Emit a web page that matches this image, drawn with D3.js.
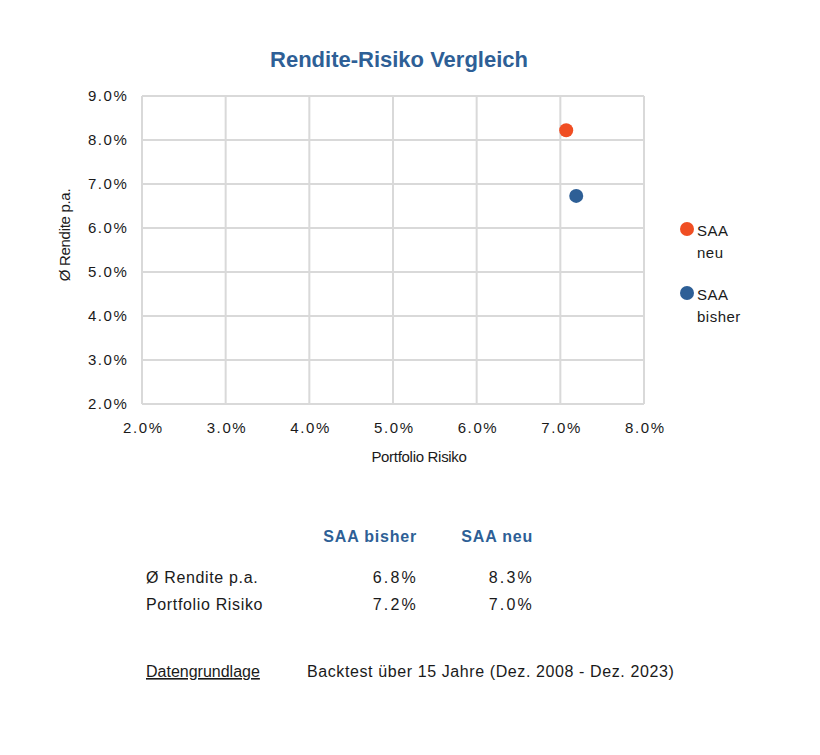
<!DOCTYPE html>
<html>
<head>
<meta charset="utf-8">
<script src="https://cdn.jsdelivr.net/npm/d3@7"></script>
<style>
  body { margin: 0; background: #fff; }
  svg text { font-family: "Liberation Sans", Arial, sans-serif; }
</style>
</head>
<body>
<svg id="chart" width="820" height="755"></svg>
<script>
// data
var series = ["SAA neu", "SAA bisher"];
var risiko = [7.07, 7.19];      // x, plotted position
var rendite = [8.22, 6.73];     // y, plotted position
var colors = ["#f04e23", "#2e5f96"];
var legendLines = [["SAA", "neu"], ["SAA", "bisher"]];

var tableCols = ["SAA bisher", "SAA neu"];
var tableRows = ["Ø Rendite p.a.", "Portfolio Risiko"];
var tableVals = [["6.8%", "8.3%"], ["7.2%", "7.0%"]];

var xTicks = [2, 3, 4, 5, 6, 7, 8];
var yTicks = [2, 3, 4, 5, 6, 7, 8, 9];

var svg = d3.select("#chart");
var margin = {top: 96, left: 142},
    width = 502, height = 308;

var x = d3.scaleLinear().domain([2, 8]).range([0, width]);
var y = d3.scaleLinear().domain([2, 9]).range([height, 0]);
var fmt = function(d) { return d.toFixed(1) + "%"; };
var ink = "#1a1a1a";

var g = svg.append("g").attr("transform", "translate(" + margin.left + "," + margin.top + ")");

// title
svg.append("text")
  .attr("x", 399).attr("y", 67)
  .attr("text-anchor", "middle")
  .style("font-size", "22px").style("font-weight", "bold")
  .attr("fill", "#2e5f96")
  .text("Rendite-Risiko Vergleich");

// grid
g.selectAll(".vgrid").data(xTicks).enter().append("line")
  .attr("x1", function(d) { return x(d); }).attr("x2", function(d) { return x(d); })
  .attr("y1", 0).attr("y2", height)
  .attr("stroke", "#d9d9d9").attr("stroke-width", 2);
g.selectAll(".hgrid").data(yTicks).enter().append("line")
  .attr("y1", function(d) { return y(d); }).attr("y2", function(d) { return y(d); })
  .attr("x1", 0).attr("x2", width)
  .attr("stroke", "#d9d9d9").attr("stroke-width", 2);

// axes
var xAxis = g.append("g")
  .attr("transform", "translate(0," + height + ")")
  .call(d3.axisBottom(x).tickValues(xTicks).tickFormat(fmt).tickSize(0).tickPadding(18));
var yAxis = g.append("g")
  .call(d3.axisLeft(y).tickValues(yTicks).tickFormat(fmt).tickSize(0).tickPadding(13.5));
[xAxis, yAxis].forEach(function(a) {
  a.select(".domain").remove();
  a.selectAll("text").style("font-size", "15px").attr("fill", ink)
    .style("letter-spacing", "1.6px")
    .style("font-family", "'Liberation Sans', Arial, sans-serif");
});
xAxis.selectAll("text").attr("dx", "0.8px");

// axis labels
svg.append("text")
  .attr("x", 419).attr("y", 462)
  .attr("text-anchor", "middle")
  .style("font-size", "15px").style("letter-spacing", "-0.3px").attr("fill", ink)
  .text("Portfolio Risiko");
svg.append("text")
  .attr("transform", "translate(70,235) rotate(-90)")
  .attr("text-anchor", "middle")
  .style("font-size", "15px").style("letter-spacing", "-0.3px").attr("fill", ink)
  .text("Ø Rendite p.a.");

// points
g.selectAll(".pt").data(series).enter().append("circle")
  .attr("cx", function(d, i) { return x(risiko[i]); })
  .attr("cy", function(d, i) { return y(rendite[i]); })
  .attr("r", 7)
  .attr("fill", function(d, i) { return colors[i]; });

// legend
var leg = svg.append("g").attr("transform", "translate(687,229)");
series.forEach(function(s, i) {
  var item = leg.append("g").attr("transform", "translate(0," + (i * 64) + ")");
  item.append("circle").attr("r", 7).attr("fill", colors[i]);
  legendLines[i].forEach(function(t, j) {
    item.append("text")
      .attr("x", 10).attr("y", j * 22 + 7)
      .style("font-size", "15px").style("letter-spacing", "0.5px").attr("fill", ink)
      .text(t);
  });
});

// table
var colX = [418, 534];
tableCols.forEach(function(c, i) {
  svg.append("text")
    .attr("x", colX[i] - 1).attr("y", 542)
    .attr("text-anchor", "end")
    .style("font-size", "16px").style("font-weight", "bold")
    .style("letter-spacing", "0.8px")
    .attr("fill", "#2e5f96")
    .text(c);
});
tableRows.forEach(function(r, i) {
  var ry = 583 + i * 27;
  svg.append("text")
    .attr("x", 146).attr("y", ry)
    .style("font-size", "16px").style("letter-spacing", "0.65px").attr("fill", ink)
    .text(r);
  tableVals[i].forEach(function(v, j) {
    svg.append("text")
      .attr("x", colX[j]).attr("y", ry)
      .attr("text-anchor", "end")
      .style("font-size", "16px").style("letter-spacing", "2.2px").attr("fill", ink)
      .text(v);
  });
});

// footer
svg.append("text")
  .attr("x", 146).attr("y", 677)
  .style("font-size", "16px").attr("fill", ink)
  .style("text-decoration", "underline")
  .text("Datengrundlage");
svg.append("text")
  .attr("x", 307).attr("y", 677)
  .style("font-size", "16px").style("letter-spacing", "0.6px").attr("fill", ink)
  .text("Backtest über 15 Jahre (Dez. 2008 - Dez. 2023)");
</script>
</body>
</html>
